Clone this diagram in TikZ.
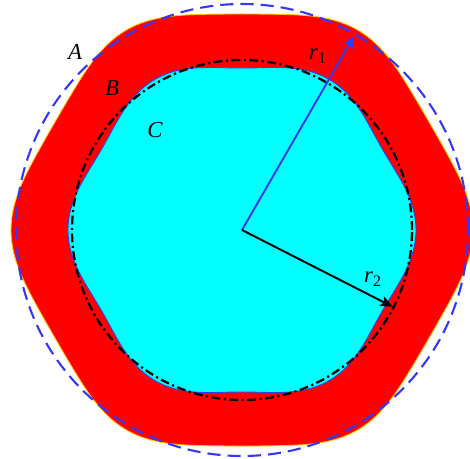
\documentclass[tikz,border=0pt]{standalone}
\usepackage{fontspec}
\setmainfont{Liberation Serif}
\usepackage{tikz}
\usetikzlibrary{arrows.meta}
\definecolor{ringcol}{HTML}{FF0000}
\definecolor{corecol}{HTML}{00FFFF}
\definecolor{edgecol}{HTML}{FFCC00}
\definecolor{bluecol}{HTML}{3838F0}

\begin{document}
\begin{tikzpicture}[scale=0.02,
          lab/.style={font=\fontsize{13}{15}\selectfont\itshape},
          ray/.style={-{Stealth[length=7pt,width=6pt,inset=1.5pt]},line width=1.1pt}
        ]
        \useasboundingbox (-242,-228) rectangle (228,230);
        % outer wavy boundary (A/B) and inner core (C)
        \fill[ringcol,draw=edgecol,line width=0.5pt] plot[domain=0:358,samples=180,smooth cycle]
          (\x:{223+7.5*cos(6*\x)+0.5*cos(12*\x)});
        \fill[corecol,draw=bluecol,line width=0.5pt] plot[domain=0:358,samples=180,smooth cycle]
          (\x:{168+6*cos(6*\x)});
        % reference circles
        \draw[line width=1.3pt,dash pattern=on 5pt off 2pt on 1.2pt off 2pt] (0,0) circle (170);
        \draw[bluecol,line width=1.2pt,dash pattern=on 7.5pt off 4pt] (0,0) circle (226);
        % radii
        \coordinate (O) at (0,0);
        \coordinate (P1) at (60:224);
        \coordinate (P2) at (-27:169);
        \draw[ray,bluecol] (O)--(P1);
        \draw[ray,black] (O)--(P2);
        \node[lab] (r1) at (76,174) {r\textsubscript{\upshape 1}};
        \node[lab] (r2) at (131,-49) {r\textsubscript{\upshape 2}};
        \node[lab] (A) at (-167,178) {A};
        \node[lab] (B) at (-130,142) {B};
        \node[lab] (C) at (-87,100) {C};
      \end{tikzpicture}
\end{document}
